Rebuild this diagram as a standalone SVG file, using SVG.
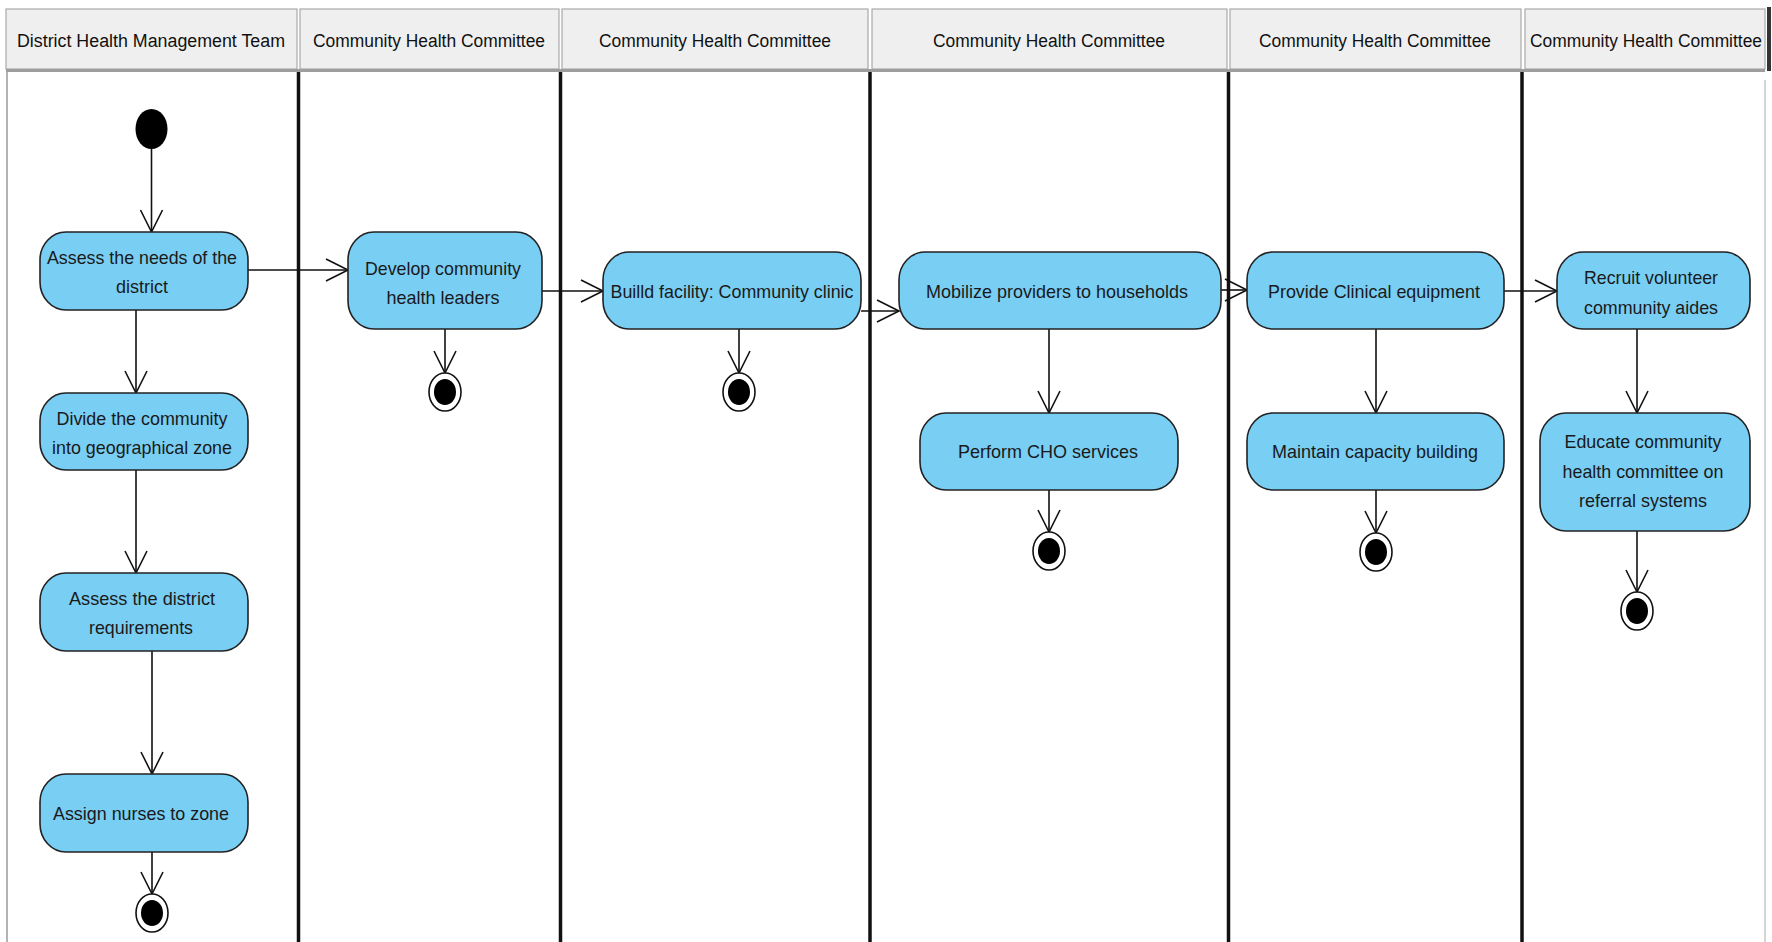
<svg xmlns="http://www.w3.org/2000/svg" width="1772" height="942" viewBox="0 0 1772 942">
<defs>
<style>
.hdr{fill:#efefef;stroke:#a9a9a9;stroke-width:1.2}
.ht{font-family:"Liberation Sans",Arial,sans-serif;font-size:18px;fill:#111;text-anchor:middle}
.lane{stroke:#111;stroke-width:3.5}
.act{fill:#79cef4;stroke:#222;stroke-width:1.6}
.t{font-family:"Liberation Sans",Arial,sans-serif;font-size:19px;fill:#1a1a1a;text-anchor:middle}
.e{stroke:#111;stroke-width:1.6;fill:none}
.fo{fill:#fff;stroke:#111;stroke-width:1.6}
.fi{fill:#000}
</style>
<marker id="arr" markerUnits="userSpaceOnUse" markerWidth="26" markerHeight="26" refX="22" refY="11" orient="auto" overflow="visible">
<path d="M0,0 L22,11 L0,22" fill="none" stroke="#111" stroke-width="1.6"/>
</marker>
</defs>
<rect width="1772" height="942" fill="#fff"/>

<g id="header">
<rect class="hdr" x="6" y="9" width="291" height="60"/>
<rect class="hdr" x="300" y="9" width="259" height="60"/>
<rect class="hdr" x="562" y="9" width="306" height="60"/>
<rect class="hdr" x="872" y="9" width="355" height="60"/>
<rect class="hdr" x="1230" y="9" width="291" height="60"/>
<rect class="hdr" x="1525" y="9" width="240" height="60"/>
<line x1="6" y1="70.5" x2="1765" y2="70.5" stroke="#9e9e9e" stroke-width="3"/>
<rect x="1767" y="7" width="4" height="64" fill="#333"/>
<text class="ht" x="151" y="47" textLength="268" lengthAdjust="spacingAndGlyphs">District Health Management Team</text>
<text class="ht" x="429" y="47" textLength="232" lengthAdjust="spacingAndGlyphs">Community Health Committee</text>
<text class="ht" x="715" y="47" textLength="232" lengthAdjust="spacingAndGlyphs">Community Health Committee</text>
<text class="ht" x="1049" y="47" textLength="232" lengthAdjust="spacingAndGlyphs">Community Health Committee</text>
<text class="ht" x="1375" y="47" textLength="232" lengthAdjust="spacingAndGlyphs">Community Health Committee</text>
<text class="ht" x="1646" y="47" textLength="232" lengthAdjust="spacingAndGlyphs">Community Health Committee</text>
</g>

<g id="lanes">
<line x1="7" y1="72" x2="7" y2="942" stroke="#9a9a9a" stroke-width="1.5"/>
<line class="lane" x1="298.5" y1="72" x2="298.5" y2="942"/>
<line class="lane" x1="560.5" y1="72" x2="560.5" y2="942"/>
<line class="lane" x1="870" y1="72" x2="870" y2="942"/>
<line class="lane" x1="1228.5" y1="72" x2="1228.5" y2="942"/>
<line class="lane" x1="1522" y1="72" x2="1522" y2="942"/>
<line x1="1765" y1="80" x2="1765" y2="942" stroke="#c8c8c8" stroke-width="1.5"/>
</g>

<g id="connectors">
<line class="e" x1="151.5" y1="149" x2="151.5" y2="232" marker-end="url(#arr)"/>
<line class="e" x1="136" y1="310" x2="136" y2="393" marker-end="url(#arr)"/>
<line class="e" x1="136" y1="470" x2="136" y2="573" marker-end="url(#arr)"/>
<line class="e" x1="152" y1="651" x2="152" y2="774" marker-end="url(#arr)"/>
<line class="e" x1="152" y1="852" x2="152" y2="894" marker-end="url(#arr)"/>
<line class="e" x1="248" y1="270" x2="348" y2="270" marker-end="url(#arr)"/>
<line class="e" x1="445" y1="329" x2="445" y2="373" marker-end="url(#arr)"/>
<line class="e" x1="542" y1="291" x2="603" y2="291" marker-end="url(#arr)"/>
<line class="e" x1="739" y1="329" x2="739" y2="373" marker-end="url(#arr)"/>
<line class="e" x1="861" y1="311" x2="899" y2="311" marker-end="url(#arr)"/>
<line class="e" x1="1049" y1="329" x2="1049" y2="413" marker-end="url(#arr)"/>
<line class="e" x1="1049" y1="490" x2="1049" y2="532" marker-end="url(#arr)"/>
<line class="e" x1="1221" y1="290" x2="1247" y2="290" marker-end="url(#arr)"/>
<line class="e" x1="1376" y1="329" x2="1376" y2="413" marker-end="url(#arr)"/>
<line class="e" x1="1376" y1="490" x2="1376" y2="533" marker-end="url(#arr)"/>
<line class="e" x1="1504" y1="291" x2="1557" y2="291" marker-end="url(#arr)"/>
<line class="e" x1="1637" y1="329" x2="1637" y2="413" marker-end="url(#arr)"/>
<line class="e" x1="1637" y1="531" x2="1637" y2="592" marker-end="url(#arr)"/>
</g>

<g id="start">
<ellipse cx="151.5" cy="129" rx="16" ry="20" fill="#000"/>
</g>

<g id="assess-needs">
<rect class="act" x="40" y="232" width="208" height="78" rx="26" ry="28"/>
<text class="t" x="142" y="264" textLength="190" lengthAdjust="spacingAndGlyphs">Assess the needs of the</text>
<text class="t" x="142" y="293" textLength="52" lengthAdjust="spacingAndGlyphs">district</text>
</g>

<g id="divide-community">
<rect class="act" x="40" y="393" width="208" height="77" rx="26" ry="28"/>
<text class="t" x="142" y="425" textLength="171" lengthAdjust="spacingAndGlyphs">Divide the community</text>
<text class="t" x="142" y="454" textLength="180" lengthAdjust="spacingAndGlyphs">into geographical zone</text>
</g>

<g id="assess-requirements">
<rect class="act" x="40" y="573" width="208" height="78" rx="26" ry="28"/>
<text class="t" x="142" y="605" textLength="146" lengthAdjust="spacingAndGlyphs">Assess the district</text>
<text class="t" x="141" y="634" textLength="104" lengthAdjust="spacingAndGlyphs">requirements</text>
</g>

<g id="assign-nurses">
<rect class="act" x="40" y="774" width="208" height="78" rx="26" ry="28"/>
<text class="t" x="141" y="820" textLength="176" lengthAdjust="spacingAndGlyphs">Assign nurses to zone</text>
</g>

<g id="final-1">
<ellipse class="fo" cx="152" cy="913" rx="16" ry="19"/>
<ellipse class="fi" cx="152" cy="913" rx="11" ry="13"/>
</g>

<g id="develop-leaders">
<rect class="act" x="348" y="232" width="194" height="97" rx="26" ry="28"/>
<text class="t" x="443" y="275" textLength="156" lengthAdjust="spacingAndGlyphs">Develop community</text>
<text class="t" x="443" y="304" textLength="113" lengthAdjust="spacingAndGlyphs">health leaders</text>
</g>

<g id="final-2">
<ellipse class="fo" cx="445" cy="392" rx="16" ry="19"/>
<ellipse class="fi" cx="445" cy="392" rx="11" ry="13"/>
</g>

<g id="build-facility">
<rect class="act" x="603" y="252" width="258" height="77" rx="26" ry="28"/>
<text class="t" x="732" y="298" textLength="243" lengthAdjust="spacingAndGlyphs">Builld facility: Community clinic</text>
</g>

<g id="final-3">
<ellipse class="fo" cx="739" cy="392" rx="16" ry="19"/>
<ellipse class="fi" cx="739" cy="392" rx="11" ry="13"/>
</g>

<g id="mobilize-providers">
<rect class="act" x="899" y="252" width="322" height="77" rx="26" ry="28"/>
<text class="t" x="1057" y="298" textLength="262" lengthAdjust="spacingAndGlyphs">Mobilize providers to households</text>
</g>

<g id="perform-cho">
<rect class="act" x="920" y="413" width="258" height="77" rx="26" ry="28"/>
<text class="t" x="1048" y="458" textLength="180" lengthAdjust="spacingAndGlyphs">Perform CHO services</text>
</g>

<g id="final-4">
<ellipse class="fo" cx="1049" cy="551" rx="16" ry="19"/>
<ellipse class="fi" cx="1049" cy="551" rx="11" ry="13"/>
</g>

<g id="provide-equipment">
<rect class="act" x="1247" y="252" width="257" height="77" rx="26" ry="28"/>
<text class="t" x="1374" y="298" textLength="212" lengthAdjust="spacingAndGlyphs">Provide Clinical equipment</text>
</g>

<g id="maintain-capacity">
<rect class="act" x="1247" y="413" width="257" height="77" rx="26" ry="28"/>
<text class="t" x="1375" y="458" textLength="206" lengthAdjust="spacingAndGlyphs">Maintain capacity building</text>
</g>

<g id="final-5">
<ellipse class="fo" cx="1376" cy="552" rx="16" ry="19"/>
<ellipse class="fi" cx="1376" cy="552" rx="11" ry="13"/>
</g>

<g id="recruit-volunteer">
<rect class="act" x="1557" y="252" width="193" height="77" rx="26" ry="28"/>
<text class="t" x="1651" y="284" textLength="134" lengthAdjust="spacingAndGlyphs">Recruit volunteer</text>
<text class="t" x="1651" y="314" textLength="134" lengthAdjust="spacingAndGlyphs">community aides</text>
</g>

<g id="educate-committee">
<rect class="act" x="1540" y="413" width="210" height="118" rx="26" ry="28"/>
<text class="t" x="1643" y="448" textLength="157" lengthAdjust="spacingAndGlyphs">Educate community</text>
<text class="t" x="1643" y="478" textLength="161" lengthAdjust="spacingAndGlyphs">health committee on</text>
<text class="t" x="1643" y="507" textLength="128" lengthAdjust="spacingAndGlyphs">referral systems</text>
</g>

<g id="final-6">
<ellipse class="fo" cx="1637" cy="611" rx="16" ry="19"/>
<ellipse class="fi" cx="1637" cy="611" rx="11" ry="13"/>
</g>
</svg>
